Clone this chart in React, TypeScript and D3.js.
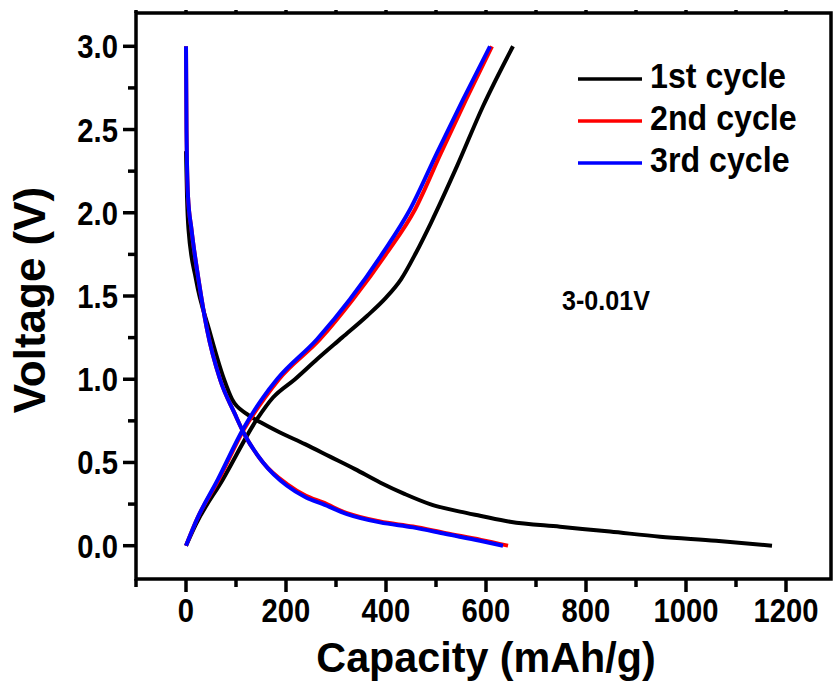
import { useEffect, useRef } from 'react';
import * as d3 from 'd3';

// capacity (mAh/g) / voltage (V)
const dis1Cap = [0, 2, 5, 20, 46, 76, 92, 122, 150, 188, 238, 288, 338, 388, 438, 488, 548, 588, 648, 748, 848, 948, 1060, 1172];
const dis1Volt = [2.37, 2.1, 1.9, 1.6, 1.3, 1.0, 0.88, 0.79, 0.74, 0.68, 0.61, 0.535, 0.46, 0.38, 0.31, 0.25, 0.205, 0.18, 0.144, 0.114, 0.085, 0.054, 0.03, 0.0];
const chg1Cap = [0, 20, 74, 142, 174, 218, 262, 312, 362, 400, 430, 460, 490, 542, 594, 654];
const chg1Volt = [0, 0.13, 0.4, 0.76, 0.89, 1.0, 1.12, 1.25, 1.38, 1.49, 1.6, 1.76, 1.94, 2.28, 2.64, 3.0];

const dis2Cap = [0, 1, 4, 11, 25, 42, 68, 98, 115, 154, 202, 240, 274, 322, 388, 454, 520, 590, 644];
const dis2Volt = [3.0, 2.5, 2.1, 1.9, 1.6, 1.3, 1.0, 0.79, 0.68, 0.5, 0.37, 0.3, 0.26, 0.195, 0.145, 0.115, 0.075, 0.035, 0.0];
const chg2Cap = [0, 22, 66, 116, 158, 186, 268, 334, 402, 458, 510, 560, 612];
const chg2Volt = [0, 0.16, 0.4, 0.7, 0.89, 1.0, 1.24, 1.48, 1.76, 2.02, 2.36, 2.68, 3.0];

const dis3Cap = [0, 1, 4, 11, 25, 42, 68, 98, 115, 154, 202, 240, 274, 322, 388, 454, 520, 588, 634];
const dis3Volt = [3.0, 2.5, 2.1, 1.9, 1.6, 1.3, 1.0, 0.79, 0.68, 0.5, 0.36, 0.29, 0.25, 0.19, 0.14, 0.11, 0.07, 0.03, 0.0];
const chg3Cap = [0, 22, 64, 114, 154, 182, 262, 328, 394, 448, 502, 554, 608];
const chg3Volt = [0, 0.16, 0.4, 0.7, 0.89, 1.0, 1.24, 1.48, 1.76, 2.02, 2.36, 2.68, 3.0];

const seriesNames = ['1st cycle', '2nd cycle', '3rd cycle'];
const seriesColors = ['#000000', '#ff0000', '#0000ff'];

const xTicks = [0, 200, 400, 600, 800, 1000, 1200];
const yTicks = [0.0, 0.5, 1.0, 1.5, 2.0, 2.5, 3.0];

const FONT = '"Liberation Sans", Arial, sans-serif';

export default function App() {
  const svgRef = useRef<SVGSVGElement>(null);

  useEffect(() => {
    if (!svgRef.current) return;
    const svg = d3.select(svgRef.current);
    svg.selectAll('*').remove();

    const left = 136, right = 831, top = 13, bottom = 579;

    const x = d3.scaleLinear().domain([-100, 1290]).range([left, right]);
    const y = d3.scaleLinear().domain([-0.2, 3.2]).range([bottom, top]);

    const zip = (c: number[], v: number[]) => c.map((d, i) => [d, v[i]] as [number, number]);
    const series = [
      [zip(dis1Cap, dis1Volt), zip(chg1Cap, chg1Volt)],
      [zip(dis2Cap, dis2Volt), zip(chg2Cap, chg2Volt)],
      [zip(dis3Cap, dis3Volt), zip(chg3Cap, chg3Volt)],
    ];

    const line = d3.line<[number, number]>()
      .x(d => x(d[0])).y(d => y(d[1]))
      .curve(d3.curveMonotoneX);

    series.forEach((curves, i) => {
      curves.forEach(pts => {
        svg.append('path').attr('d', line(pts))
          .attr('fill', 'none').attr('stroke', seriesColors[i])
          .attr('stroke-width', 4).attr('stroke-linejoin', 'round');
      });
    });

    // frame
    svg.append('rect').attr('x', left).attr('y', top)
      .attr('width', right - left).attr('height', bottom - top)
      .attr('fill', 'none').attr('stroke', '#000').attr('stroke-width', 3.5);

    // x ticks (bottom out, top small)
    d3.range(-100, 1291, 100).forEach(v => {
      const major = v % 200 === 0;
      svg.append('line').attr('x1', x(v)).attr('x2', x(v))
        .attr('y1', bottom).attr('y2', bottom + (major ? 13 : 8))
        .attr('stroke', '#000').attr('stroke-width', 3.5);
      svg.append('line').attr('x1', x(v)).attr('x2', x(v))
        .attr('y1', top).attr('y2', top - 3)
        .attr('stroke', '#000').attr('stroke-width', 3.5);
    });
    // y ticks
    d3.range(-0.25, 3.21, 0.25).filter(v => v >= -0.2).forEach(v => {
      const major = Math.abs(v * 2 - Math.round(v * 2)) < 1e-6;
      svg.append('line').attr('x1', left).attr('x2', left - (major ? 13 : 8))
        .attr('y1', y(v)).attr('y2', y(v))
        .attr('stroke', '#000').attr('stroke-width', 3.5);
    });

    xTicks.forEach(v => {
      svg.append('text')
        .attr('transform', `translate(${x(v)},622) scale(0.86,1)`)
        .attr('text-anchor', 'middle')
        .style('font-family', FONT).style('font-weight', 'bold').style('font-size', '34px')
        .text(String(v));
    });
    yTicks.forEach(v => {
      svg.append('text')
        .attr('transform', `translate(118,${y(v) + 12}) scale(0.86,1)`)
        .attr('text-anchor', 'end')
        .style('font-family', FONT).style('font-weight', 'bold').style('font-size', '34px')
        .text(v.toFixed(1));
    });

    // axis titles
    svg.append('text')
      .attr('transform', `translate(486,672) scale(0.96,1)`)
      .attr('text-anchor', 'middle')
      .style('font-family', FONT).style('font-weight', 'bold').style('font-size', '43px')
      .text('Capacity (mAh/g)');
    svg.append('text')
      .attr('transform', `translate(45,300) rotate(-90)`)
      .attr('text-anchor', 'middle')
      .style('font-family', FONT).style('font-weight', 'bold').style('font-size', '44px')
      .text('Voltage (V)');

    // legend
    seriesNames.forEach((name, i) => {
      const ly = 79 + i * 42;
      svg.append('line').attr('x1', 578).attr('x2', 642).attr('y1', ly).attr('y2', ly)
        .attr('stroke', seriesColors[i]).attr('stroke-width', 3.5);
      svg.append('text')
        .attr('transform', `translate(650,${ly + 9}) scale(0.92,1)`)
        .style('font-family', FONT).style('font-weight', 'bold').style('font-size', '35px')
        .text(name);
    });

    svg.append('text')
      .attr('transform', `translate(562,310) scale(0.93,1)`)
      .style('font-family', FONT).style('font-weight', 'bold').style('font-size', '27px')
      .text('3-0.01V');
  }, []);

  return (
    <svg ref={svgRef} width={834} height={683}
      style={{ position: 'absolute', left: 0, top: 0, background: '#fff' }} />
  );
}
